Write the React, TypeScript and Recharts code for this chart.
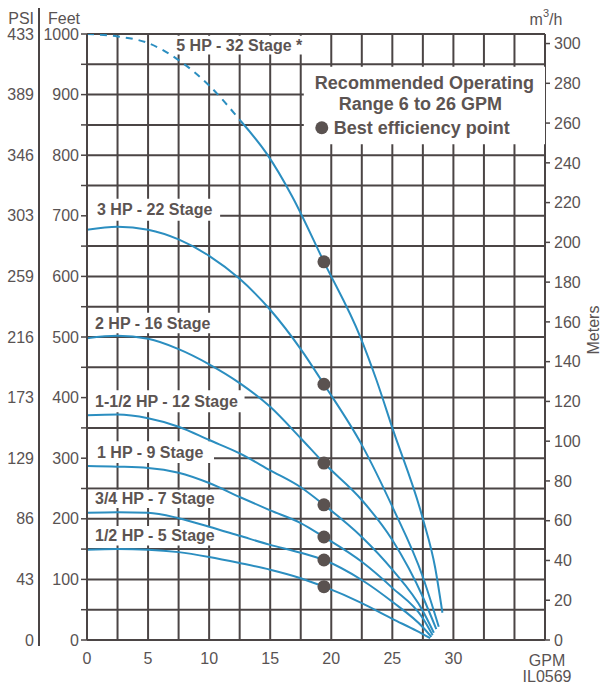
import React from 'react';
import {
  ComposedChart,
  Line,
  Scatter,
  XAxis,
  YAxis,
  CartesianGrid,
  ReferenceArea,
} from 'recharts';

// ---------- data ----------
const gpmTicks = [0, 2.5, 5, 7.5, 10, 12.5, 15, 17.5, 20, 22.5, 25, 27.5, 30, 32.5, 35, 37.5];
const gpmLabels = ['0', '5', '10', '15', '20', '25', '30'];
const m3Ticks = [1, 2, 3, 4, 5, 6, 7];
const feetTicks = [0, 50, 100, 150, 200, 250, 300, 350, 400, 450, 500, 550, 600, 650, 700, 750, 800, 850, 900, 950, 1000];
const psiTicks = [0, 100, 200, 300, 400, 500, 600, 700, 800, 900, 1000];
const psiLabels = ['0', '43', '86', '129', '173', '216', '259', '303', '346', '389', '433'];
const meterTicks = [0, 20, 40, 60, 80, 100, 120, 140, 160, 180, 200, 220, 240, 260, 280, 300];

// [GPM, feet]
const hp5Dashed = [[0, 1000], [2.5, 996], [5, 985], [7.5, 957], [10, 915], [12.6, 856]];
const hp5Solid = [[12.6, 856], [14.7, 803], [16.8, 732], [19.4, 624], [22.4, 499], [23.7, 429], [25, 350], [27.5, 200], [28.5, 120], [29.1, 45]];
const hp3 = [[0, 677], [2.5, 682], [5, 677], [7.5, 661], [10, 634], [12.5, 596], [15, 545], [17.5, 480], [19.4, 422], [22.5, 322], [25, 220], [27.5, 104], [28.8, 22]];
const hp2 = [[0, 498], [2.5, 502], [5, 497], [7.5, 480], [10, 455], [12.5, 424], [15, 385], [17.5, 333], [19.4, 292], [22.5, 231], [25, 165], [27.5, 71], [28.6, 18]];
const hp15 = [[0, 371], [2.5, 372], [5, 366], [7.5, 352], [10, 330], [12.5, 308], [15, 280], [17.5, 252], [19.4, 223], [22.5, 170], [25, 116], [27.5, 48], [28.4, 12]];
const hp1 = [[0, 287], [2.5, 286], [5, 284], [7.5, 276], [10, 259], [12.5, 236], [15, 214], [17.5, 193], [19.4, 170], [22.5, 129], [25, 86], [27.5, 36], [28.3, 8]];
const hp34 = [[0, 210], [2.5, 211], [5, 210], [7.5, 201], [10, 187], [12.5, 172], [15, 157], [17.5, 144], [19.4, 132], [22.5, 99], [25, 63], [27.5, 21], [28.2, 5]];
const hp12 = [[0, 149], [2.5, 150], [5, 149], [7.5, 145], [10, 137], [12.5, 127], [15, 116], [17.5, 102], [19.4, 88], [22.5, 61], [25, 35], [27, 15], [28.1, 3]];

const bepGpm = [19.4, 19.4, 19.4, 19.4, 19.4, 19.4, 19.4];
const bepFeet = [624, 422, 292, 223, 170, 132, 88];

const curveNames = [
  '5 HP - 32 Stage *',
  '3 HP - 22 Stage',
  '2 HP - 16 Stage',
  '1-1/2 HP - 12 Stage',
  '1 HP - 9 Stage',
  '3/4 HP - 7 Stage',
  '1/2 HP - 5 Stage',
];
const legendLines = ['Recommended Operating', 'Range 6 to 26 GPM', 'Best efficiency point'];

// ---------- helpers ----------
const toRows = (pts: number[][]) => pts.map(([gpm, ft]) => ({ gpm, ft }));
const bepRows = bepGpm.map((g, i) => ({ gpm: g, ft: bepFeet[i] }));

const FONT = "'Liberation Sans', Arial, Helvetica, sans-serif";
const TXT = '#595353';
const BOLD_TXT = '#5c5452';
const BLUE = '#2b8ec0';
const GRID = '#4b4545';
const DOT = '#5a5250';
const M3_PER_GPM = 4.40287;

// label boxes (layout only)
const labelBoxes = [
  { x1: 6.9, x2: 17.8, y1: 966, y2: 997, dx: 5 },
  { x1: 0, x2: 10.9, y1: 692, y2: 728, dx: 10 },
  { x1: 0, x2: 10.3, y1: 506, y2: 540, dx: 8 },
  { x1: 0, x2: 12.9, y1: 376, y2: 412, dx: 8 },
  { x1: 0, x2: 10.4, y1: 292, y2: 328, dx: 10 },
  { x1: 0, x2: 10.9, y1: 218, y2: 248, dx: 8 },
  { x1: 0, x2: 10.4, y1: 156, y2: 188, dx: 8 },
];

const makeBoxLabel = (text: string, dx: number) => (props: any) => {
  const vb = props.viewBox || {};
  return (
    <text
      x={vb.x + dx}
      y={vb.y + vb.height / 2}
      dominantBaseline="central"
      fontFamily={FONT}
      fontSize={16}
      fontWeight="bold"
      fill={BOLD_TXT}
    >
      {text}
    </text>
  );
};

const LegendContent = (props: any) => {
  const vb = props.viewBox || {};
  const cx = vb.x + vb.width / 2;
  return (
    <g fontFamily={FONT} fontSize={18} fontWeight="bold" fill={BOLD_TXT}>
      <text x={cx} y={vb.y + 16} textAnchor="middle" dominantBaseline="central">
        {legendLines[0]}
      </text>
      <text x={cx - 4} y={vb.y + 37} textAnchor="middle" dominantBaseline="central">
        {legendLines[1]}
      </text>
      <circle cx={vb.x + 18} cy={vb.y + 61} r={6.5} fill={DOT} />
      <text x={vb.x + 30} y={vb.y + 61} dominantBaseline="central">
        {legendLines[2]}
      </text>
    </g>
  );
};

const PsiHeader = (props: any) => {
  const vb = props.viewBox || {};
  const lx = vb.x + vb.width - 1;
  return (
    <g>
      <line x1={lx} x2={lx} y1={vb.y - 26} y2={vb.y + vb.height + 6} stroke={GRID} strokeWidth={2} />
      <text x={lx - 5} y={vb.y - 16} textAnchor="end" dominantBaseline="central" fontFamily={FONT} fontSize={16} fill={TXT}>
        PSI
      </text>
    </g>
  );
};

const FeetHeader = (props: any) => {
  const vb = props.viewBox || {};
  return (
    <text x={vb.x + vb.width - 7} y={vb.y - 16} textAnchor="end" dominantBaseline="central" fontFamily={FONT} fontSize={16} fill={TXT}>
      Feet
    </text>
  );
};

const MetersLabel = (props: any) => {
  const vb = props.viewBox || {};
  const cx = vb.x + 48;
  const cy = vb.y + vb.height / 2 - 7;
  return (
    <text x={cx} y={cy} transform={`rotate(-90, ${cx}, ${cy})`} textAnchor="middle" dominantBaseline="central" fontFamily={FONT} fontSize={16} fill={TXT}>
      Meters
    </text>
  );
};

const GpmLabel = (props: any) => {
  const vb = props.viewBox || {};
  const x = vb.x + vb.width + 2;
  return (
    <g fontFamily={FONT} fontSize={16} fill={TXT}>
      <text x={x} y={vb.y + 20} textAnchor="middle" dominantBaseline="central">GPM</text>
      <text x={x} y={vb.y + 36} textAnchor="middle" dominantBaseline="central">IL0569</text>
    </g>
  );
};

const M3Label = (props: any) => {
  const vb = props.viewBox || {};
  const x = vb.x + vb.width + 1;
  return (
    <text x={x} y={vb.y + vb.height - 15} textAnchor="middle" dominantBaseline="central" fontFamily={FONT} fontSize={16} fill={TXT}>
      m<tspan fontSize={11} dy={-6}>3</tspan><tspan dy={6}>/h</tspan>
    </text>
  );
};

const BepDot = (props: any) => (
  <circle cx={props.cx} cy={props.cy} r={6.5} fill={DOT} />
);

const tickStyle = { fill: TXT, fontSize: 16, fontFamily: FONT };
const tickLineStyle = { stroke: GRID, strokeWidth: 1.5 };

const curves = [hp5Solid, hp3, hp2, hp15, hp1, hp34, hp12];

export default function App() {
  return (
    <div style={{ position: 'absolute', left: 0, top: 0, width: 600, height: 684, background: '#fff' }}>
      <ComposedChart
        width={600}
        height={684}
        margin={{ top: 0, right: 0, bottom: 0, left: 0 }}
        style={{ fontFamily: FONT }}
      >
        <CartesianGrid xAxisId="gpm" yAxisId="ft" stroke={GRID} strokeWidth={2} />
        <XAxis
          xAxisId="gpm"
          type="number"
          dataKey="gpm"
          domain={[0, 37.5]}
          ticks={gpmTicks}
          interval={0}
          orientation="bottom"
          height={44}
          tickLine={false}
          tickSize={0}
          tickMargin={13}
          axisLine={false}
          allowDataOverflow
          tick={tickStyle}
          tickFormatter={(v: number) => (gpmLabels.includes(String(v)) ? String(v) : '')}
          label={{ content: GpmLabel }}
        />
        <XAxis
          xAxisId="m3"
          type="number"
          domain={[0, 37.5 / M3_PER_GPM]}
          ticks={m3Ticks}
          interval={0}
          orientation="top"
          height={34}
          tickSize={5}
          tickMargin={2}
          tickLine={tickLineStyle}
          axisLine={false}
          allowDataOverflow
          tick={tickStyle}
          label={{ content: M3Label }}
        />
        <YAxis
          yAxisId="ft"
          type="number"
          dataKey="ft"
          domain={[0, 1000]}
          ticks={feetTicks}
          interval={0}
          width={47}
          tickSize={6}
          tickMargin={2}
          tickLine={tickLineStyle}
          axisLine={{ stroke: GRID, strokeWidth: 2 }}
          allowDataOverflow
          tick={tickStyle}
          tickFormatter={(v: number) => (v % 100 === 0 ? String(v) : '')}
          label={{ content: FeetHeader }}
        />
        <YAxis
          yAxisId="psi"
          type="number"
          domain={[0, 1000]}
          ticks={psiTicks}
          interval={0}
          width={40}
          tickSize={0}
          tickMargin={6}
          tickLine={false}
          axisLine={false}
          allowDataOverflow
          tick={tickStyle}
          tickFormatter={(v: number) => psiLabels[Math.round(v / 100)]}
          label={{ content: PsiHeader }}
        />
        <YAxis
          yAxisId="m"
          orientation="right"
          type="number"
          domain={[0, 304.8]}
          ticks={meterTicks}
          interval={0}
          width={55}
          tickSize={5}
          tickMargin={4}
          tickLine={tickLineStyle}
          axisLine={false}
          allowDataOverflow
          tick={tickStyle}
          label={{ content: MetersLabel }}
        />

        {labelBoxes.map((b, i) => (
          <ReferenceArea
            key={'box' + i}
            xAxisId="gpm"
            yAxisId="ft"
            x1={b.x1}
            x2={b.x2}
            y1={b.y1}
            y2={b.y2}
            fill="#ffffff"
            fillOpacity={1}
            stroke="none"
            label={{ content: makeBoxLabel(curveNames[i], b.dx) }}
          />
        ))}
        <ReferenceArea
          xAxisId="gpm"
          yAxisId="ft"
          x1={17.75}
          x2={37.5}
          y1={818}
          y2={946}
          fill="#ffffff"
          fillOpacity={1}
          stroke="none"
          label={{ content: LegendContent }}
        />

        <Line
          xAxisId="gpm"
          yAxisId="ft"
          data={toRows(hp5Dashed)}
          dataKey="ft"
          type="monotone"
          stroke={BLUE}
          strokeWidth={2}
          strokeDasharray="7 6"
          dot={false}
          activeDot={false}
          isAnimationActive={false}
        />
        {curves.map((c, i) => (
          <Line
            key={'c' + i}
            xAxisId="gpm"
            yAxisId="ft"
            data={toRows(c)}
            dataKey="ft"
            type="monotone"
            stroke={BLUE}
            strokeWidth={2}
            dot={false}
            activeDot={false}
            isAnimationActive={false}
          />
        ))}
        <Scatter
          xAxisId="gpm"
          yAxisId="ft"
          data={bepRows}
          dataKey="ft"
          fill={DOT}
          shape={BepDot}
          isAnimationActive={false}
        />
      </ComposedChart>
    </div>
  );
}
